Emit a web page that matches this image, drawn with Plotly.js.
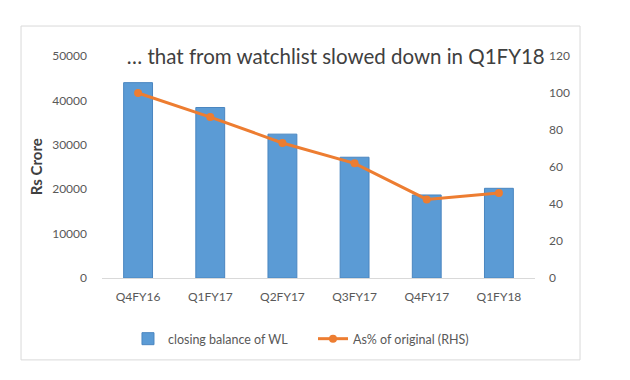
<!DOCTYPE html>
<html>
<head>
<meta charset="utf-8">
<script src="https://cdn.plot.ly/plotly-3.0.1.min.js"></script>
<style>html,body{margin:0;padding:0;background:#fff;}#chart{width:630px;height:380px;}</style>
</head>
<body>
<div id="chart"></div>
<script>
const categories = ["Q4FY16", "Q1FY17", "Q2FY17", "Q3FY17", "Q4FY17", "Q1FY18"];
const closingBalance = [44000, 38400, 32400, 27200, 18700, 20200];
const pctOfOriginal = [100, 87, 73, 62, 42.5, 46];
const leftTicks = [0, 10000, 20000, 30000, 40000, 50000];
const rightTicks = [0, 20, 40, 60, 80, 100, 120];

const FONT = "Lato, 'Open Sans', sans-serif";
const GREY = "#595959";

const traces = [
  {
    type: "bar", x: categories, y: closingBalance, name: "closing balance of WL",
    marker: {color: "#5b9bd5", line: {color: "#4a86c0", width: 1}},
    yaxis: "y"
  },
  {
    type: "scatter", mode: "lines+markers", x: categories, y: pctOfOriginal,
    name: "As% of original (RHS)",
    line: {color: "#ed7d31", width: 3},
    marker: {color: "#ed7d31", size: 8},
    yaxis: "y2"
  }
];

const layout = {
  width: 630, height: 380,
  margin: {l: 102, r: 95, t: 56, b: 102},
  paper_bgcolor: "#fff", plot_bgcolor: "#fff",
  font: {family: FONT, color: GREY, size: 12},
  bargap: 0.6,
  showlegend: true,
  title: {
    text: "… that from watchlist slowed down in Q1FY18",
    font: {family: FONT, size: 20.5, color: "#404040"},
    xref: "paper", x: 0.54, xanchor: "center",
    yref: "container", y: 0.85, yanchor: "middle"
  },
  xaxis: {
    type: "category", showline: true, linecolor: "#d9d9d9", linewidth: 1,
    showgrid: false, ticks: "", ticklabelstandoff: 8,
    tickfont: {family: FONT, size: 12, color: GREY}, fixedrange: true
  },
  yaxis: {
    range: [0, 50000], tickvals: leftTicks, ticktext: leftTicks.map(String),
    showgrid: false, zeroline: false, showline: false, ticks: "",
    ticklabelstandoff: 14,
    tickfont: {family: FONT, size: 12, color: GREY}
  },
  yaxis2: {
    range: [0, 120], tickvals: rightTicks, overlaying: "y", side: "right",
    showgrid: false, zeroline: false, showline: false, ticks: "",
    ticklabelstandoff: 13,
    tickfont: {family: FONT, size: 12, color: GREY}
  },
  legend: {
    orientation: "h", x: 0.06, xanchor: "left", y: -0.275, yanchor: "middle",
    font: {family: FONT, size: 12.5, color: GREY}, entrywidth: 140,
    bgcolor: "rgba(0,0,0,0)"
  },
  annotations: [{
    text: "<b>Rs Crore</b>", textangle: -90, showarrow: false,
    xref: "paper", yref: "paper", x: -0.152, y: 0.5,
    xanchor: "center", yanchor: "middle",
    font: {family: FONT, size: 15, color: "#404040"}
  }],
  shapes: [{
    type: "rect", xref: "paper", yref: "paper",
    x0: -0.187, x1: 1.104, y0: -0.369, y1: 1.135,
    line: {color: "#d9d9d9", width: 1}, fillcolor: "rgba(0,0,0,0)", layer: "below"
  }]
};

Plotly.newPlot("chart", traces, layout, {displayModeBar: false, staticPlot: true});
</script>
</body>
</html>
